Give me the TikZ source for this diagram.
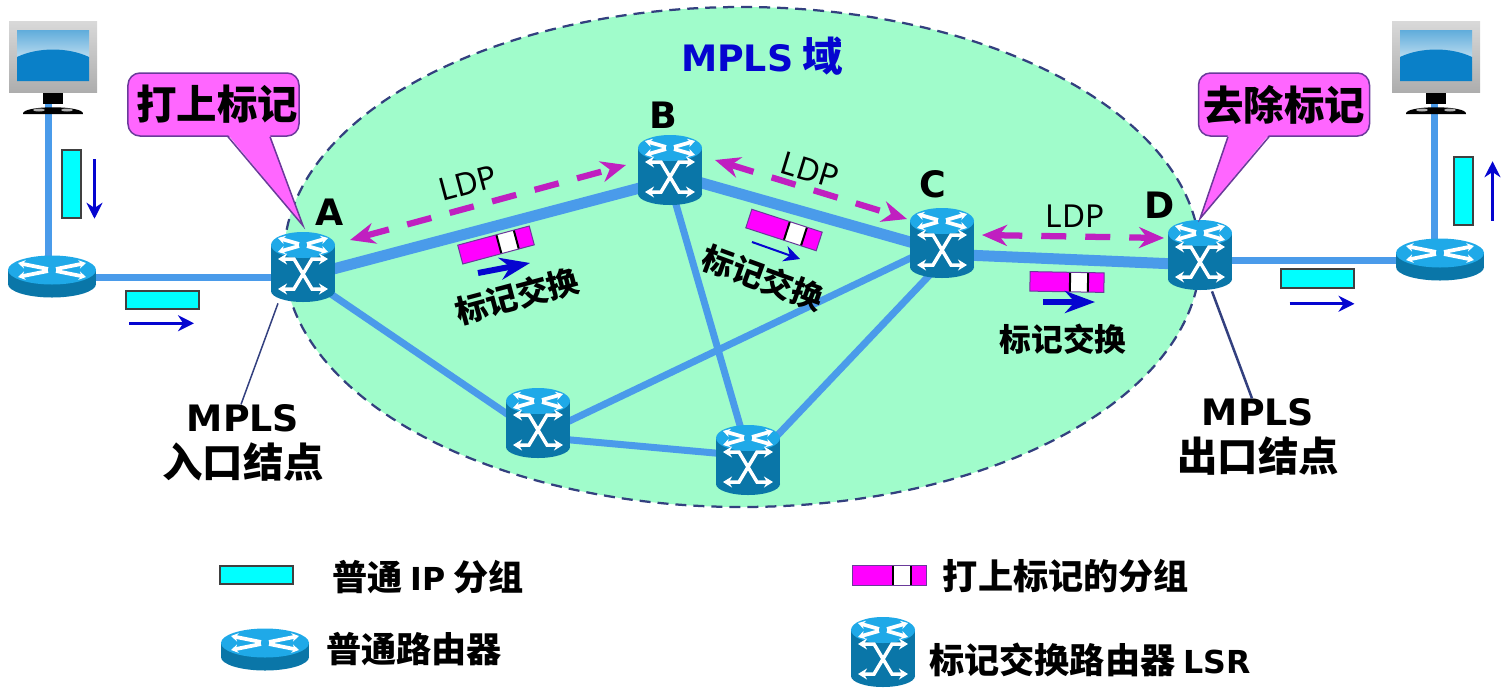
\documentclass[tikz,border=0pt]{standalone}
\usepackage{fontspec}
\setmainfont{Noto Sans CJK SC}
\newfontfamily\latinfont[Scale=0.9]{DejaVu Sans}
\newfontfamily\ldpfont{Noto Sans}
\usepackage{xcolor}
\usetikzlibrary{arrows.meta,backgrounds,positioning,shapes.geometric}
\definecolor{lsrbody}{HTML}{0A76A8}
\definecolor{lsrtop}{HTML}{1FA9E8}
\definecolor{screenblue}{HTML}{0A80C8}
\definecolor{linkblue}{HTML}{4A9BEA}
\definecolor{domainfill}{HTML}{A0FCCB}
\definecolor{domainline}{HTML}{33407F}
\definecolor{ldpcolor}{HTML}{C01FC0}
\definecolor{flowblue}{HTML}{0505D0}
\definecolor{pktcyan}{HTML}{00FFFF}
\definecolor{pktmagenta}{HTML}{FF00FF}
\definecolor{notepink}{HTML}{FF66FF}
\definecolor{noteline}{HTML}{6A3A9A}
\newcommand{\lat}[1]{{\latinfont\bfseries #1}}
\newcommand{\toparrows}[2]{%
\foreach \sx in {-1,1} \foreach \sy in {-1,1}
\draw[white,line width=.75mm,{Stealth[length=1.4mm,width=1.7mm]}-] (\sx*#1,#2+\sy*7) -- (\sx*4,#2+\sy*1);}
\newcommand{\lsrdraw}{%
\fill[lsrbody] (-32,-22) rectangle (32,24);
\fill[lsrbody] (0,24) ellipse [x radius=6.4mm,y radius=2.2mm];
\fill[lsrtop] (0,-22) ellipse [x radius=6.4mm,y radius=2.6mm];
\toparrows{25}{-22}
\foreach \sy in {-1,1} {
\draw[white,line width=.7mm,{Stealth[length=1.8mm,width=2.2mm]}-{Stealth[length=1.8mm,width=2.2mm]}]
 (-25,7+\sy*15) -- (-9,7+\sy*15) -- (9,7-\sy*15) -- (25,7-\sy*15);}}
\newcommand{\routerdraw}{%
\fill[lsrbody] (-44,-8) rectangle (44,7);
\fill[lsrbody] (0,7) ellipse [x radius=8.8mm,y radius=2.7mm];
\fill[lsrtop] (0,-7) ellipse [x radius=8.8mm,y radius=2.9mm];
\toparrows{34}{-7}}
\newcommand{\pcdraw}{%
\shade[top color=black!15,bottom color=black!32] (-44,-47) rectangle (44,24);
\shade[top color=screenblue!65,bottom color=screenblue!25] (-36,-38) rectangle (36,-8);
\fill[screenblue] (-36,13) -- (-36,-11) .. controls (-15,-21) and (15,-21) .. (36,-11) -- (36,13) -- cycle;
\fill[black] (-10,25) rectangle (10,36);
\fill[black] (-30,46) .. controls (-32,37) and (32,37) .. (30,46) -- cycle;
\fill[white!70!black] (-14,42) ellipse [x radius=1.2mm,y radius=.3mm];
\fill[white!70!black] (14,42) ellipse [x radius=1.2mm,y radius=.3mm];}
\newcommand{\cellpacket}{%
\draw[black,fill=white,line width=.4mm] (3,-12) rectangle (21,12);}
\begin{document}
\begin{tikzpicture}[x=.2mm,y=-.2mm,
every node/.style={inner sep=0pt,font=\bfseries\fontsize{23pt}{26pt}\selectfont,align=center},
lsrnode/.style={rectangle,minimum width=13.2mm,minimum height=14.4mm,
 path picture={\begin{scope}[shift={(path picture bounding box.center)}]\lsrdraw\end{scope}}},
routernode/.style={rectangle,minimum width=17.8mm,minimum height=8.6mm,
 path picture={\begin{scope}[shift={(path picture bounding box.center)}]\routerdraw\end{scope}}},
pcnode/.style={rectangle,minimum width=17.8mm,minimum height=18.8mm,
 path picture={\begin{scope}[shift={(path picture bounding box.center)}]\pcdraw\end{scope}}},
domainnode/.style={ellipse,draw=domainline,fill=domainfill,line width=.45mm,dash pattern=on 2.2mm off 1.4mm,minimum width=183.2mm,minimum height=100mm},
pktnode/.style={rectangle,draw=black!75,fill=pktcyan,line width=.4mm,minimum width=14.6mm,minimum height=3.7mm},
pktup/.style={rectangle,draw=black!75,fill=pktcyan,line width=.4mm,minimum width=3.8mm,minimum height=13.5mm},
labelnode/.style={rectangle,draw=noteline,fill=pktmagenta,line width=.2mm,minimum width=14.8mm,minimum height=3.9mm,
 path picture={\begin{scope}[shift={(path picture bounding box.center)}]\cellpacket\end{scope}}},
notenode/.style={rectangle,rounded corners=2.4mm,draw=noteline,fill=notepink,line width=.3mm,minimum width=34.2mm,minimum height=12.6mm},
notetail/.style={fill=notepink},
noteedge/.style={draw=noteline,line width=.3mm},
swaptext/.style={font=\bfseries\fontsize{18pt}{22pt}\selectfont},
ldptext/.style={font=\ldpfont\fontsize{18pt}{22pt}\selectfont},
legendtext/.style={font=\bfseries\fontsize{20pt}{24pt}\selectfont},
thinlink/.style={draw=linkblue,line width=1.4mm},
thicklink/.style={draw=linkblue,line width=2.2mm},
ldparrow/.style={draw=ldpcolor,line width=1.25mm,dash pattern=on 5mm off 3.8mm,
 {Stealth[length=5mm,width=4.2mm,ldpcolor]}-{Stealth[length=5mm,width=4.2mm,ldpcolor]}},
flowarrow/.style={draw=flowblue,line width=.65mm,-{Stealth[length=3.2mm,width=3.2mm]}},
bigflow/.style={draw=flowblue,line width=1.2mm,-{Stealth[length=6mm,width=4.4mm]}},
leader/.style={draw=domainline,line width=.3mm},
]
\useasboundingbox (0,0) rectangle (1501,699);
%Nodes
\node[lsrnode] (A) at (303,267) {};
\node[lsrnode] (B) at (670,170) {};
\node[lsrnode] (C) at (942,243) {};
\node[lsrnode] (D) at (1200,255) {};
\node[lsrnode] (E) at (538,423) {};
\node[lsrnode] (F) at (748,460) {};
\node[routernode] (routerL) at (52,277) {};
\node[routernode] (routerR) at (1440,260) {};
\node[pcnode] (pcL) at (53,68) {};
\node[pcnode] (pcR) at (1436,68) {};
\node[notenode] (markA) at (213.5,104.5) {\hspace*{1.4mm}打上标记};
\node[notenode] (markD) at (1284,104.5) {去除标记};
\node (nameA) at (330,212) {\lat{A}};
\node (nameB) at (663,115) {\lat{B}};
\node (nameC) at (933,184) {\lat{C}};
\node (nameD) at (1160,205) {\lat{D}};
\node[text=flowblue] (domainname) at (762,56) {\lat{MPLS} 域};
\node (ingress) at (243,443) {\lat{MPLS}\\入口结点};
\node (egress) at (1258,437) {\lat{MPLS}\\出口结点};
%Packets
\node[pktup] (pktL) at (71,184) {};
\node[pktnode] (pktLA) at (162.5,300) {};
\node[pktnode] (pktDR) at (1317,278.5) {};
\node[pktup] (pktR) at (1463,191) {};
\node[labelnode,rotate=15] (labelAB) at (496,245) {};
\node[labelnode,rotate=-18] (labelBC) at (784,230) {};
\node[labelnode,rotate=-1] (labelCD) at (1067,282) {};
\node[swaptext,rotate=15] (swapAB) at (517,296) {标记交换};
\node[swaptext,rotate=-20] (swapBC) at (763,278) {标记交换};
\node[swaptext] (swapCD) at (1063,339) {标记交换};
\node[ldptext,rotate=15] (ldpAB) at (468,183) {LDP};
\node[ldptext,rotate=-17] (ldpBC) at (810,170) {LDP};
\node[ldptext] (ldpCD) at (1075,216) {LDP};
%Legend
\node[pktnode] (keypkt) at (256,575) {};
\node[legendtext] (keypkttext) at (428,577) {普通 \lat{IP} 分组};
\node[routernode] (keyrouter) at (265,650) {};
\node[legendtext] (keyroutertext) at (414,649) {普通路由器};
\node[labelnode] (keylabel) at (889.5,575.5) {};
\node[legendtext] (keylabeltext) at (1066,576) {打上标记的分组};
\node[lsrnode] (keylsr) at (883,652) {};
\node[legendtext] (keylsrtext) at (1090,660) {标记交换路由器 \lat{LSR}};
%Domain and links behind the nodes
\begin{pgfonlayer}{background}
\node[domainnode] (domain) at (742,257) {};
\draw[thicklink] ([yshift=-2mm]A.center) -- ([yshift=-2mm]B.center);
\draw[thicklink] ([yshift=-.8mm]B.center) -- ([yshift=-1.6mm]C.center);
\draw[thicklink] ([yshift=-2.2mm]C.center) -- ([yshift=-2mm]D.center);
\draw[thinlink] ([yshift=-1.6mm]A.center) -- ([yshift=-2.4mm]E.center);
\draw[thinlink] ([yshift=-2.6mm]E.center) -- (C.center);
\draw[thinlink] ([yshift=-2.8mm]E.center) -- ([yshift=.8mm]F.center);
\draw[thinlink] ([xshift=-.8mm]B.center) -- ([xshift=.4mm]F.center);
\draw[thinlink] ([xshift=3.6mm]C.center) -- ([xshift=1.2mm]F.center);
\draw[thinlink] (routerL.center) -- (routerL.center -| A.center);
\draw[thinlink] (routerR.center) -- (routerR.center -| D.center);
\draw[thinlink] ([xshift=-1mm]pcL.center) -- ([xshift=-1mm]pcL.center |- routerL.center);
\draw[thinlink] ([xshift=-.4mm]pcR.center) -- ([xshift=-.4mm]pcR.center |- routerR.center);
\end{pgfonlayer}
%Callout tails
\fill[notetail] ([shift={(14.5,-2)}]markA.south) -- ([yshift=1mm]A.north) -- ([shift={(56.5,-2)}]markA.south) -- cycle;
\draw[noteedge] ([xshift=2.9mm]markA.south) -- ([yshift=1mm]A.north) -- ([xshift=11.3mm]markA.south);
\fill[notetail] ([shift={(-56,-2)}]markD.south) -- (D.north) -- ([shift={(-15,-2)}]markD.south) -- cycle;
\draw[noteedge] ([xshift=-11.2mm]markD.south) -- (D.north) -- ([xshift=-3mm]markD.south);
%Arrows
\draw[ldparrow] ([shift={(47,-27)}]A.center) -- ([shift={(-44,-5)}]B.center);
\draw[ldparrow] ([shift={(45,-10)}]B.center) -- ([shift={(-35,-24)}]C.center);
\draw[ldparrow] ([shift={(40,-8)}]C.center) -- ([shift={(-36,-17)}]D.center);
\draw[flowarrow] ([shift={(13,10)}]pktL.north east) -- ([shift={(13,0)}]pktL.south east);
\draw[flowarrow] ([shift={(4,13)}]pktLA.south west) -- ([shift={(-6,13)}]pktLA.south east);
\draw[flowarrow] ([shift={(10,15)}]pktDR.south west) -- ([shift={(0,15)}]pktDR.south east);
\draw[flowarrow] ([shift={(19,-5)}]pktR.south east) -- ([shift={(19,5)}]pktR.north east);
\draw[bigflow] ([shift={(-18,28)}]labelAB.center) -- ([shift={(34,18)}]labelAB.center);
\draw[flowarrow,line width=.4mm] ([shift={(-32,12)}]labelBC.center) -- ([shift={(16,29)}]labelBC.center);
\draw[bigflow] ([shift={(-24,20)}]labelCD.center) -- ([shift={(28,20)}]labelCD.center);
\draw[leader] ([xshift=-5mm]A.south) -- ([xshift=-.4mm]ingress.north);
\draw[leader,line width=.5mm] ([xshift=2.4mm]D.south) -- ([xshift=-1.2mm]egress.north);
\end{tikzpicture}
\end{document}
